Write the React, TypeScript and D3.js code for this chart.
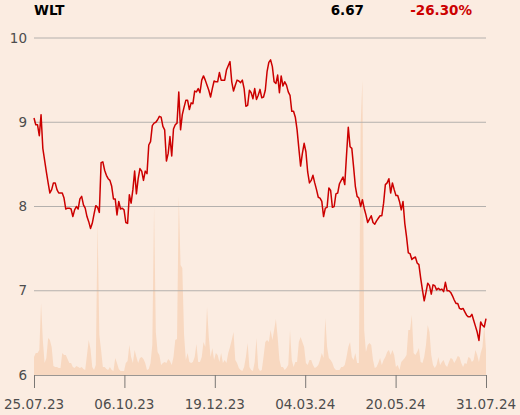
import React from "react";
import * as d3 from "d3";

const ticker = "WLT";
const lastPrice = "6.67";
const changePct = "-26.30%";

const xTickLabels = ["25.07.23", "06.10.23", "19.12.23", "04.03.24", "20.05.24", "31.07.24"];
const yTicks = [6, 7, 8, 9, 10];

const price = [9.05,8.97,8.97,8.84,9.09,8.69,8.55,8.41,8.28,8.16,8.20,8.28,8.28,8.20,8.16,8.16,8.16,8.10,7.97,7.98,7.98,7.97,7.88,7.96,8.00,7.97,8.09,8.12,8.02,7.98,7.88,7.82,7.74,7.80,7.91,8.01,7.99,7.93,8.52,8.53,8.43,8.37,8.33,8.31,8.24,8.09,8.09,7.90,8.06,7.97,7.98,7.96,7.81,7.80,8.14,8.04,8.20,8.42,8.15,8.33,8.45,8.42,8.31,8.42,8.39,8.73,8.77,8.96,8.99,9.00,9.03,9.07,9.06,8.95,8.91,8.54,8.63,8.83,8.60,8.92,8.97,8.99,9.36,8.91,9.09,9.18,9.26,9.26,9.15,9.23,9.22,9.37,9.36,9.40,9.35,9.50,9.55,9.50,9.44,9.38,9.30,9.40,9.49,9.48,9.48,9.59,9.50,9.50,9.50,9.62,9.67,9.72,9.48,9.37,9.44,9.50,9.49,9.47,9.50,9.40,9.19,9.20,9.38,9.35,9.28,9.40,9.27,9.32,9.39,9.29,9.30,9.38,9.60,9.71,9.74,9.66,9.48,9.46,9.56,9.35,9.55,9.43,9.48,9.44,9.36,9.32,9.13,9.13,9.06,8.91,8.69,8.48,8.63,8.75,8.65,8.41,8.28,8.31,8.37,8.28,8.20,8.11,8.10,8.06,7.88,7.98,7.99,8.22,8.19,7.99,8.00,8.15,8.16,8.27,8.31,8.35,8.26,8.61,8.94,8.71,8.69,8.47,8.24,8.12,8.10,8.00,8.08,7.98,7.90,7.81,7.85,7.89,7.81,7.79,7.83,7.86,7.89,7.89,8.04,8.26,8.28,8.33,8.16,8.28,8.20,8.13,8.13,8.06,7.96,8.06,7.80,7.64,7.45,7.44,7.37,7.39,7.40,7.33,7.31,7.15,7.01,6.88,6.98,7.09,7.06,6.96,7.07,7.06,7.01,7.03,7.01,7.02,6.99,7.10,7.00,7.00,6.98,6.94,6.89,6.85,6.85,6.79,6.78,6.79,6.75,6.71,6.69,6.69,6.72,6.65,6.58,6.51,6.41,6.63,6.59,6.57,6.67];

const volume = [18,22,22,25,72,35,12,17,37,35,28,9,8,8,7,7,22,20,20,16,12,12,8,7,9,8,7,8,6,5,20,35,26,8,5,10,153,40,25,8,8,6,5,8,5,4,17,12,6,4,4,4,12,14,30,18,12,25,18,12,17,18,16,12,5,6,12,30,169,43,23,20,10,12,13,12,16,14,10,18,35,36,179,110,107,40,15,22,13,12,13,18,31,13,13,18,33,28,68,38,18,27,15,22,20,13,22,12,15,12,22,28,35,43,15,12,7,5,4,8,18,32,8,5,4,13,37,7,4,5,18,33,35,33,45,35,45,56,38,15,8,8,5,7,10,45,15,8,13,13,33,38,33,28,12,10,15,15,10,7,8,10,15,22,17,57,28,17,15,12,7,5,5,5,8,8,10,18,28,33,18,15,22,12,12,250,295,45,23,30,32,30,15,7,8,12,17,10,15,18,23,25,20,25,20,8,10,5,13,15,17,20,45,45,60,22,20,23,27,13,12,18,30,50,43,20,10,7,10,18,10,13,15,10,8,13,17,16,12,15,19,18,12,8,12,11,18,17,13,15,25,20,13,22,28,50,25];

const W = 520;
const H = 415;
const left = 34;
const right = 486;
const top = 38;
const bottom = 375;

export default function App() {
  const x = d3.scaleLinear().domain([0, price.length - 1]).range([left, right]);
  const xv = d3.scaleLinear().domain([0, volume.length - 1]).range([left, right]);
  const y = d3.scaleLinear().domain([6, 10]).range([bottom, top]);
  const yv = d3.scaleLinear().domain([0, 300]).range([bottom, 75]);

  const line = d3.line<number>().x((_, i) => x(i)).y((d) => y(d));
  const area = d3
    .area<number>()
    .x((_, i) => xv(i))
    .y0(bottom)
    .y1((d) => yv(d));

  const tickPos = xTickLabels.map((_, i) => left + ((right - left) * i) / (xTickLabels.length - 1));
  const font = "'DejaVu Sans', sans-serif";

  return (
    <svg width={W} height={H} style={{ position: "absolute", left: 0, top: 0, display: "block" }}>
      <rect x={0} y={0} width={W} height={H} fill="#fbece1" />
      <text x={34} y={15} fontFamily={font} fontWeight="bold" fontSize={13.5} fill="#000">{ticker}</text>
      <text x={364} y={15} textAnchor="end" fontFamily={font} fontWeight="bold" fontSize={13.5} fill="#000">{lastPrice}</text>
      <text x={472} y={15} textAnchor="end" fontFamily={font} fontWeight="bold" fontSize={13.5} fill="#cc0000">{changePct}</text>

      <path d={area(volume) || ""} fill="#f8d8c0" />

      {yTicks.map((t) => (
        <g key={t}>
          {t !== 6 && (
            <line x1={left} x2={right} y1={y(t)} y2={y(t)} stroke="#b4b0ad" strokeWidth={1} />
          )}
          <text x={27} y={y(t)} dy="0.35em" textAnchor="end" fontFamily={font} fontSize={13.5} fill="#4d4d4d">{t}</text>
        </g>
      ))}

      <line x1={left} x2={right} y1={bottom + 0.5} y2={bottom + 0.5} stroke="#9a9692" strokeWidth={1} />
      {xTickLabels.map((lab, i) => (
        <g key={lab}>
          <line x1={tickPos[i] + 0.5} x2={tickPos[i] + 0.5} y1={bottom} y2={bottom + 13} stroke="#7a7774" strokeWidth={1} />
          <text x={tickPos[i]} y={409} textAnchor="middle" fontFamily={font} fontSize={13.5} fill="#4d4d4d">{lab}</text>
        </g>
      ))}

      <path d={line(price) || ""} fill="none" stroke="#cc0000" strokeWidth={1.5} strokeLinejoin="round" />
    </svg>
  );
}
